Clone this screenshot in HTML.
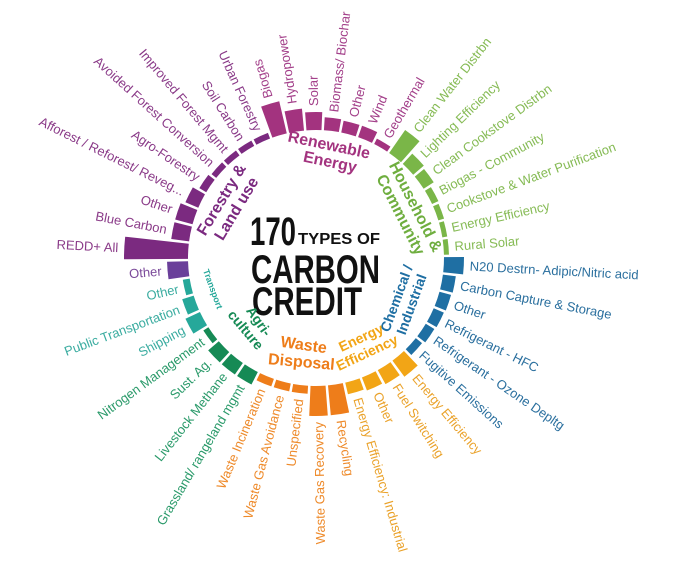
<!DOCTYPE html>
<html><head><meta charset="utf-8"><style>
html,body{margin:0;padding:0;background:#fff;}
svg{display:block;font-family:"Liberation Sans",sans-serif;}
</style></head><body>
<svg id="chart" width="686" height="564" viewBox="0 0 686 564" xmlns="http://www.w3.org/2000/svg">
<rect width="686" height="564" fill="#fff"/>
<g id="bars"></g>
<g id="labels"></g>
<g font-weight="bold" fill="#111">
<text x="250" y="245" font-size="40" textLength="46" lengthAdjust="spacingAndGlyphs">170</text>
<text x="298" y="244" font-size="16" textLength="82" lengthAdjust="spacingAndGlyphs">TYPES OF</text>
<text x="251" y="283" font-size="40" textLength="129" lengthAdjust="spacingAndGlyphs">CARBON</text>
<text x="252" y="315" font-size="40" textLength="110" lengthAdjust="spacingAndGlyphs">CREDIT</text>
</g>
<g font-weight="bold" font-size="16">
<text fill="#a3337f" transform="translate(328,150) rotate(12)" text-anchor="middle">Renewable</text>
<text fill="#a3337f" transform="translate(329,167) rotate(12)" text-anchor="middle">Energy</text>
<text fill="#7b2a80" transform="translate(222,200) rotate(-59)" text-anchor="middle" dominant-baseline="central">Forestry &amp;</text>
<text fill="#7b2a80" transform="translate(237,209) rotate(-59)" text-anchor="middle" dominant-baseline="central">Land use</text>
<text fill="#6fae3f" transform="translate(415,207) rotate(63)" text-anchor="middle" dominant-baseline="central">Household &amp;</text>
<text fill="#6fae3f" transform="translate(400,215) rotate(63)" text-anchor="middle" dominant-baseline="central">Community</text>
<text fill="#1f6fa3" font-size="14" transform="translate(401,300) rotate(-70)" text-anchor="middle">Chemical /</text>
<text fill="#1f6fa3" font-size="14" transform="translate(416,306) rotate(-70)" text-anchor="middle">Industrial</text>
<text fill="#f2a516" font-size="14" transform="translate(363,342) rotate(-25)" text-anchor="middle">Energy</text>
<text fill="#f2a516" font-size="14" transform="translate(369,357) rotate(-25)" text-anchor="middle">Efficiency</text>
<text fill="#ee7d1a" transform="translate(303,350) rotate(8)" text-anchor="middle">Waste</text>
<text fill="#ee7d1a" transform="translate(301,367) rotate(5)" text-anchor="middle">Disposal</text>
<text fill="#168a55" font-size="14" transform="translate(255,324) rotate(55)" text-anchor="middle">Agri-</text>
<text fill="#168a55" font-size="14" transform="translate(242,333) rotate(50)" text-anchor="middle">culture</text>
<text fill="#26a89a" font-size="9" transform="translate(210,290) rotate(70)" text-anchor="middle">Transport</text>
</g>
<script>
const categories = ["N20 Destrn- Adipic/Nitric acid","Carbon Capture & Storage","Other","Refrigerant - HFC","Refrigerant - Ozone Depltg","Fugitive Emissions","Energy Efficiency","Fuel Switching","Other","Energy Efficiency: Industrial","Recycling","Waste Gas Recovery","Unspecified","Waste Gas Avoidance","Waste Incineration","Grassland/ rangeland mgmt","Livestock Methane","Sust. Ag.","Nitrogen Management","Shipping","Public Transportation","Other","Other","REDD+ All","Blue Carbon","Other","Afforest / Reforest/ Reveg...","Agro-Forestry","Avoided Forest Conversion","Improved Forest Mgmt","Soil Carbon","Urban Forestry","Biogas","Hydropower","Solar","Biomass/ Biochar","Other","Wind","Geothermal","Clean Water Distrbn","Lighting Efficiency","Clean Cookstove Distrbn","Biogas - Community","Cookstove & Water Purification","Energy Efficiency","Rural Solar"];
const values = [20,13,12,11,10,8,20,16,14,12,30,30,8,8,8,14,14,14,6,16,12,7,21,64,18,18,14,8,6,6,6,6,33,22,18,13,12,12,6,28,14,12,7,6,5,5];
const groups = ["chem","chem","chem","chem","chem","chem","ee","ee","ee","ee","waste","waste","waste","waste","waste","agri","agri","agri","agri","trans","trans","trans","other","forest","forest","forest","forest","forest","forest","forest","forest","forest","renew","renew","renew","renew","renew","renew","renew","house","house","house","house","house","house","house"];
const colors = {chem:"#1f6fa3",ee:"#f2a516",waste:"#ee7d1a",agri:"#168a55",trans:"#26a89a",other:"#6a3f9a",forest:"#7b2a80",renew:"#a3337f",house:"#7ab648"};
const labelColors = {chem:"#2a6f9e",ee:"#eaa22a",waste:"#ee8a2a",agri:"#2a9a6a",trans:"#3aaca0",other:"#7b4a9a",forest:"#8a3a88",renew:"#a3408a",house:"#86bb55"};
const cx=316, cy=258, r0=128, startDeg=3;
const step = 360/categories.length;
const NS="http://www.w3.org/2000/svg";
const barsG=document.getElementById('bars'), labG=document.getElementById('labels');
function angle(i){return startDeg+i*step;}
function radius(v){return r0+v;}
function pt(r,deg){const a=deg*Math.PI/180;return [cx+r*Math.cos(a),cy+r*Math.sin(a)];}
categories.forEach((c,i)=>{
  const th=angle(i), half=step*0.43;
  const r1=radius(values[i]);
  const p1=pt(r0,th-half),p2=pt(r1,th-half),p3=pt(r1,th+half),p4=pt(r0,th+half);
  const path=document.createElementNS(NS,'path');
  path.setAttribute('d',`M${p1[0]},${p1[1]} L${p2[0]},${p2[1]} A${r1},${r1} 0 0 1 ${p3[0]},${p3[1]} L${p4[0]},${p4[1]} A${r0},${r0} 0 0 0 ${p1[0]},${p1[1]}Z`);
  path.setAttribute('fill',colors[groups[i]]);
  
  
  barsG.appendChild(path);
  const lp=pt(r1+6,th);
  const t=document.createElementNS(NS,'text');
  const norm=((th%360)+360)%360;
  const flip = norm>85 && norm<250;
  t.setAttribute('transform',`translate(${lp[0]},${lp[1]}) rotate(${flip?th+180:th})`);
  t.setAttribute('text-anchor',flip?'end':'start');
  t.setAttribute('dominant-baseline','central');
  t.setAttribute('font-size','13');
  t.setAttribute('fill',labelColors[groups[i]]);
  t.textContent=c;
  
  
  labG.appendChild(t);
});
</script>
</svg>
</body></html>
